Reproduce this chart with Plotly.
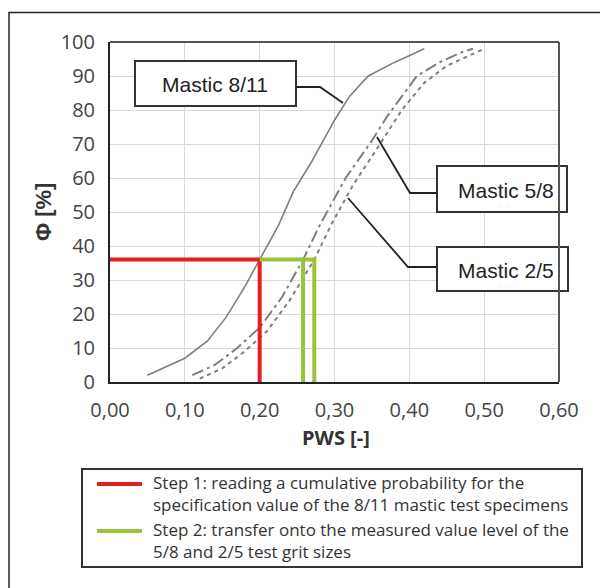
import plotly.graph_objects as go

# ---------------- data ----------------
m811_x = [0.05, 0.10, 0.13, 0.155, 0.18, 0.20, 0.225, 0.245, 0.27, 0.30, 0.32, 0.345, 0.38, 0.42]
m811_y = [2, 7, 12, 19, 28, 36, 46, 56, 65, 77, 84, 90, 94, 98]
m58_x = [0.11, 0.14, 0.17, 0.20, 0.23, 0.258, 0.28, 0.315, 0.35, 0.37, 0.41, 0.44, 0.47, 0.485]
m58_y = [2, 5, 10, 16, 25, 36, 46, 60, 71, 78, 90, 94, 97, 98]
m25_x = [0.12, 0.15, 0.18, 0.21, 0.24, 0.273, 0.295, 0.325, 0.355, 0.39, 0.42, 0.45, 0.50]
m25_y = [1, 4, 9, 15, 24, 36, 46, 58, 68, 80, 88, 93, 98]
phi_level = 36
spec_value = 0.20
meas_58 = 0.258
meas_25 = 0.273
x_ticks = [0.0, 0.1, 0.2, 0.3, 0.4, 0.5, 0.6]
x_tick_labels = ["0,00", "0,10", "0,20", "0,30", "0,40", "0,50", "0,60"]
y_ticks = list(range(0, 101, 10))
labels = ["Mastic 8/11", "Mastic 5/8", "Mastic 2/5"]
legend_texts = ["Step 1: reading a cumulative probability for the<br>specification value of the 8/11 mastic test specimens",
                "Step 2: transfer onto the measured value level of the<br>5/8 and 2/5 test grit sizes"]

# ---------------- layout geometry (window pixel coords; page has 8px body margin) ----------------
OFF = 8
W, H = 600, 580
L, R, T, B = 110, 559, 42, 382   # plot area in window coords


def px(x):
    return (x - L) / (R - L)


def py(y):
    return (B - y) / (B - T)


GREY = "#7f7f7f"
RED = "#e3201f"
GREEN = "#9bc33a"

fig = go.Figure()
fig.add_trace(go.Scatter(x=m811_x, y=m811_y, mode="lines",
                         line=dict(color=GREY, width=1.6), showlegend=False))
fig.add_trace(go.Scatter(x=m58_x, y=m58_y, mode="lines",
                         line=dict(color=GREY, width=2, dash="12px,4px,3px,4px"), showlegend=False))
fig.add_trace(go.Scatter(x=m25_x, y=m25_y, mode="lines",
                         line=dict(color=GREY, width=2, dash="4px,4px"), showlegend=False))
# step 1 (red)
fig.add_trace(go.Scatter(x=[0, spec_value, spec_value], y=[phi_level, phi_level, 0], mode="lines",
                         line=dict(color=RED, width=4), showlegend=False))
# step 2 (green)
fig.add_trace(go.Scatter(x=[spec_value, meas_25, meas_25], y=[phi_level, phi_level, 0], mode="lines",
                         line=dict(color=GREEN, width=4), showlegend=False))
fig.add_trace(go.Scatter(x=[meas_58, meas_58], y=[phi_level, 0], mode="lines",
                         line=dict(color=GREEN, width=4), showlegend=False))

shapes = []
annotations = []

# outer frame
shapes.append(dict(type="rect", xref="paper", yref="paper",
                   x0=px(9), x1=px(660), y0=py(660), y1=py(12.5),
                   line=dict(color="#222", width=1.5), layer="below"))

# label boxes and callouts
boxes = [((135, 296, 61, 106), (215, 84), [(296, 87), (320, 87), (343, 103)]),
         ((437, 567, 166, 212), (506, 190), [(377, 137), (410, 193), (437, 193)]),
         ((437, 568, 247, 291), (506, 270), [(348, 198), (408, 267), (437, 267)])]
for text, ((x0, x1, y0, y1), (tx, ty), pts) in zip(labels, boxes):
    shapes.append(dict(type="rect", xref="paper", yref="paper",
                       x0=px(x0), x1=px(x1), y0=py(y1), y1=py(y0),
                       fillcolor="white", line=dict(color="#333", width=2)))
    path = "M " + " L ".join(f"{px(a):.5f},{py(b):.5f}" for a, b in pts)
    shapes.append(dict(type="path", xref="paper", yref="paper", path=path,
                       line=dict(color="#222", width=1.8)))
    annotations.append(dict(xref="paper", yref="paper", x=px(tx), y=py(ty), text=text,
                            showarrow=False, xanchor="center", yanchor="middle",
                            font=dict(family="Liberation Sans", size=21, color="#222")))

# legend box
shapes.append(dict(type="rect", xref="paper", yref="paper",
                   x0=px(82), x1=px(582), y0=py(567), y1=py(469),
                   fillcolor="white", line=dict(color="#333", width=2)))
for (ly, ty), col, txt in zip([(484, 493), (531, 540)], [RED, GREEN], legend_texts):
    shapes.append(dict(type="line", xref="paper", yref="paper",
                       x0=px(97), x1=px(142), y0=py(ly), y1=py(ly),
                       line=dict(color=col, width=4)))
    annotations.append(dict(xref="paper", yref="paper", x=px(151), y=py(ty), text=txt,
                            showarrow=False, xanchor="left", yanchor="middle", align="left",
                            font=dict(family="Open Sans", size=17, color="#333")))

# axis titles
annotations.append(dict(xref="paper", yref="paper", x=px(336), y=py(437), text="<b>PWS [-]</b>",
                        showarrow=False, xanchor="center", yanchor="middle",
                        font=dict(family="Open Sans", size=20, color="#333")))
annotations.append(dict(xref="paper", yref="paper", x=px(43), y=py(212), text="<b>Φ [%]</b>",
                        showarrow=False, xanchor="center", yanchor="middle", textangle=-90,
                        font=dict(family="Liberation Sans", size=22, color="#333")))

fig.update_layout(
    width=W, height=H,
    margin=dict(l=L - OFF, r=W + OFF - R, t=T - OFF, b=H + OFF - B, pad=0),
    paper_bgcolor="white", plot_bgcolor="white",
    shapes=shapes, annotations=annotations,
    xaxis=dict(range=[0, 0.6], tickvals=x_ticks, ticktext=x_tick_labels,
               showgrid=True, gridcolor="#d9d9d9", gridwidth=1,
               showline=True, linecolor="#222", linewidth=2, mirror=False,
               zeroline=False, ticks="", ticklabelstandoff=9,
               tickfont=dict(family="Open Sans", size=20, color="#444")),
    yaxis=dict(range=[0, 100], tickvals=y_ticks,
               showgrid=True, gridcolor="#d9d9d9", gridwidth=1,
               showline=True, linecolor="#222", linewidth=2,
               zeroline=False, ticks="", ticklabelstandoff=9,
               tickfont=dict(family="Open Sans", size=20, color="#444")),
)
# top/right grey border of plot area
fig.add_shape(type="line", xref="paper", yref="paper", x0=0, x1=1, y0=1, y1=1,
              line=dict(color="#555", width=2))
fig.add_shape(type="line", xref="paper", yref="paper", x0=1, x1=1, y0=0, y1=1,
              line=dict(color="#555", width=2))

fig.write_html("out.html")
